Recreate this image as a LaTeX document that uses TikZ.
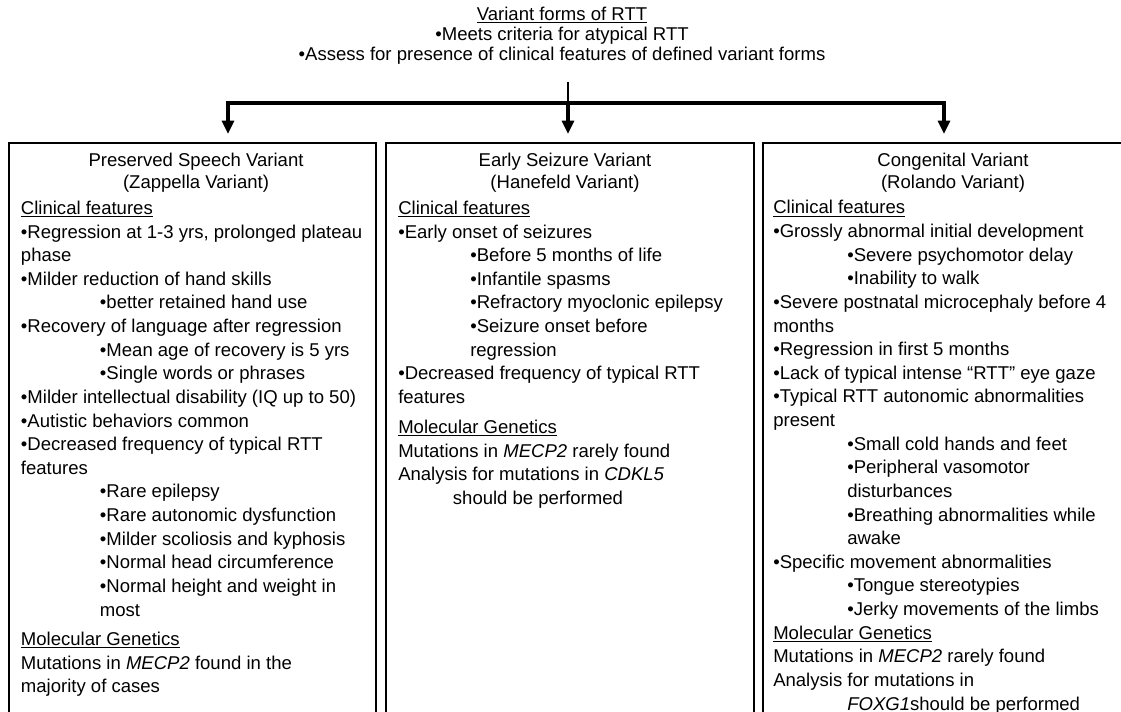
\documentclass[tikz,border=0pt]{standalone}
\usepackage{fontspec}
\setmainfont{Liberation Sans}
\usetikzlibrary{arrows.meta}
\newcommand{\bodyfont}{\fontsize{13.9pt}{17.72pt}\selectfont}
\newcommand{\hdrfont}{\fontsize{13.9pt}{15pt}\selectfont}
\newcommand{\ttlfont}{\fontsize{13.9pt}{16.5pt}\selectfont}
\newcommand{\subA}{\hspace*{59.25pt}}
\newcommand{\subB}{\hspace*{54pt}}
\newcommand{\subC}{\hspace*{55.5pt}}
\begin{document}
\begin{tikzpicture}[x=0.75pt,y=-0.75pt,
  body/.style={anchor=north west,inner sep=0pt,align=left,font=\bodyfont},
  ttl/.style={anchor=north,inner sep=0pt,align=center,font=\ttlfont},
  hdr/.style={anchor=north,inner sep=0pt,align=center,font=\hdrfont},
  boxline/.style={draw=black,line width=1.5pt},
  conn/.style={draw=black,line width=2.3pt},
  stem/.style={draw=black,line width=1.8pt},
  tip/.style={-{Triangle[length=10pt,width=9pt]}}]
\useasboundingbox (0,0) rectangle (1121,711);
\fill[white] (0,0) rectangle (1121,711);

% header
\node[hdr] (top) at (562,6.6) {\underline{Variant forms of RTT}\\
  •Meets criteria for atypical RTT\\
  •Assess for presence of clinical features of defined variant forms};

% connectors
\coordinate (s) at (568,82);
\coordinate (j) at (568,103);
\coordinate (a1) at (228,134);
\coordinate (a2) at (568,134);
\coordinate (a3) at (944,134);
\draw[stem] (s) -- (j);
\draw[conn,tip] (j) -| (a1);
\draw[conn,tip] (j) -| (a3);
\draw[conn,tip] (j) -- (a2);

% boxes (open at the bottom, cut by the page edge)
\coordinate (b1sw) at (8.5,720);  \coordinate (b1nw) at (8.5,143);
\coordinate (b1ne) at (376,143);  \coordinate (b1se) at (376,720);
\coordinate (b2sw) at (386,720);  \coordinate (b2nw) at (386,143);
\coordinate (b2ne) at (754,143);  \coordinate (b2se) at (754,720);
\coordinate (b3sw) at (763,720);  \coordinate (b3nw) at (763,143);
\coordinate (b3ne) at (1130,143); \coordinate (b3se) at (1130,720);
\draw[boxline] (b1sw) -- (b1nw) -- (b1ne) -- (b1se);
\draw[boxline] (b2sw) -- (b2nw) -- (b2ne) -- (b2se);
\draw[boxline] (b3sw) -- (b3nw) -- (b3ne) -- (b3se);

% titles
\node[ttl] (t1) at (196,152.7) {Preserved Speech Variant\\(Zappella Variant)};
\node[ttl] (t2) at (565,152.7) {Early Seizure Variant\\(Hanefeld Variant)};
\node[ttl] (t3) at (953,152.7) {Congenital Variant\\(Rolando Variant)};

% box 1
\node[body] (c1) at (20.7,200.7) {\underline{Clinical features}\\
•Regression at 1-3 yrs, prolonged plateau\\
phase\\
•Milder reduction of hand skills\\
\subA•better retained hand use\\
•Recovery of language after regression\\
\subA•Mean age of recovery is 5 yrs\\
\subA•Single words or phrases\\
•Milder intellectual disability (IQ up to 50)\\
•Autistic behaviors common\\
•Decreased frequency of typical RTT\\
features\\
\subA•Rare epilepsy\\
\subA•Rare autonomic dysfunction\\
\subA•Milder scoliosis and kyphosis\\
\subA•Normal head circumference\\
\subA•Normal height and weight in\\
\subA most\\[4.5pt]
\underline{Molecular Genetics}\\
Mutations in \textit{MECP2} found in the\\
majority of cases};

% box 2
\node[body] (c2) at (398,200.7) {\underline{Clinical features}\\
•Early onset of seizures\\
\subB•Before 5 months of life\\
\subB•Infantile spasms\\
\subB•Refractory myoclonic epilepsy\\
\subB•Seizure onset before\\
\subB regression\\
•Decreased frequency of typical RTT\\
features\\[5pt]
\underline{Molecular Genetics}\\
Mutations in \textit{MECP2} rarely found\\
Analysis for mutations in \textit{CDKL5}\\
\hspace*{41pt}should be performed};

% box 3
\node[body] (c3) at (773,200.2) {\underline{Clinical features}\\
•Grossly abnormal initial development\\
\subC•Severe psychomotor delay\\
\subC•Inability to walk\\
•Severe postnatal microcephaly before 4\\
months\\
•Regression in first 5 months\\
•Lack of typical intense “RTT” eye gaze\\
•Typical RTT autonomic abnormalities\\
present\\
\subC•Small cold hands and feet\\
\subC•Peripheral vasomotor\\
\subC disturbances\\
\subC•Breathing abnormalities while\\
\subC awake\\
•Specific movement abnormalities\\
\subC•Tongue stereotypies\\
\subC•Jerky movements of the limbs\\
\underline{Molecular Genetics}\\
Mutations in \textit{MECP2} rarely found\\
Analysis for mutations in\\
\subC\textit{FOXG1}should be performed};
\end{tikzpicture}
\end{document}
